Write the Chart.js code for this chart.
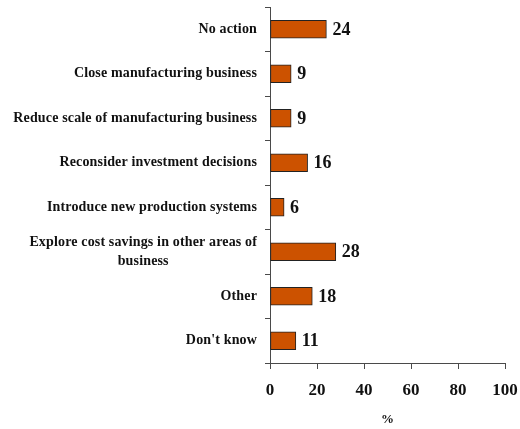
<!DOCTYPE html>
<html>
<head>
<meta charset="utf-8">
<script src="https://cdn.jsdelivr.net/npm/chart.js@4/dist/chart.umd.min.js"></script>
<style>
  html, body { margin: 0; padding: 0; background: #fff; }
  #wrap { width: 520px; height: 429px; position: relative; }
</style>
</head>
<body>
<div id="wrap"><canvas id="chart"></canvas></div>
<script>
const categories = [
  'No action',
  'Close manufacturing business',
  'Reduce scale of manufacturing business',
  'Reconsider investment decisions',
  'Introduce new production systems',
  ['Explore cost savings in other areas of', 'business'],
  'Other',
  "Don't know",
];
const percentages = [24, 9, 9, 16, 6, 28, 18, 11];
const xTicks = [0, 20, 40, 60, 80, 100];

const SERIF = '"Liberation Serif", "Times New Roman", serif';
const AXIS_COLOR = '#4a4a4a';

// category labels: block right-aligned to the axis, lines centred on each other
const categoryLabels = {
  id: 'categoryLabels',
  afterDraw(chart) {
    const { ctx, scales: { y } } = chart;
    ctx.save();
    ctx.font = `bold 14px ${SERIF}`;
    ctx.letterSpacing = '0.15px';
    ctx.fillStyle = '#111';
    ctx.textBaseline = 'middle';
    ctx.textAlign = 'center';
    const right = y.right - 13;
    const lineH = 19;
    categories.forEach((label, i) => {
      const lines = Array.isArray(label) ? label : [label];
      const widest = Math.max(...lines.map(l => ctx.measureText(l).width));
      const cx = right - widest / 2;
      const cy = y.getPixelForValue(i);
      lines.forEach((l, k) => {
        ctx.fillText(l, cx, cy + (k - (lines.length - 1) / 2) * lineH);
      });
    });
    ctx.restore();
  },
};

// value printed just past the end of each bar
const valueLabels = {
  id: 'valueLabels',
  afterDatasetsDraw(chart) {
    const { ctx } = chart;
    const meta = chart.getDatasetMeta(0);
    ctx.save();
    ctx.font = `bold 18px ${SERIF}`;
    ctx.fillStyle = '#111';
    ctx.textBaseline = 'middle';
    ctx.textAlign = 'left';
    meta.data.forEach((bar, i) => {
      ctx.fillText(String(percentages[i]), bar.x + 6, bar.y + 1);
    });
    ctx.restore();
  },
};

new Chart(document.getElementById('chart'), {
  type: 'bar',
  data: {
    labels: categories,
    datasets: [{
      data: percentages,
      backgroundColor: '#CC5200',
      borderColor: '#222',
      borderWidth: 1,
      borderSkipped: false,
      barThickness: 18,
    }],
  },
  options: {
    indexAxis: 'y',
    responsive: true,
    maintainAspectRatio: false,
    animation: false,
    layout: { padding: { top: 7, right: 0, bottom: 0, left: 0 } },
    plugins: {
      legend: { display: false },
      tooltip: { enabled: false },
    },
    scales: {
      x: {
        min: 0,
        max: 100,
        afterBuildTicks: scale => { scale.ticks = xTicks.map(v => ({ value: v })); },
        afterFit: scale => {
          scale.height = 66;
          // plot ends 15px short of the right edge, room for the "100" label
          scale.paddingLeft = 0;
          scale.paddingRight = 15;
        },
        grid: {
          drawOnChartArea: false,
          drawTicks: true,
          tickLength: 6,
          color: AXIS_COLOR,
        },
        border: { color: AXIS_COLOR, width: 1 },
        ticks: {
          color: '#111',
          font: { family: SERIF, size: 17, weight: 'bold' },
          padding: 11,
          maxRotation: 0,
        },
        title: {
          display: true,
          text: '%',
          color: '#111',
          font: { family: SERIF, size: 13, weight: 'bold' },
          padding: { top: 4, bottom: 2 },
        },
      },
      y: {
        afterFit: scale => { scale.width = 270; },
        grid: {
          offset: true,
          drawOnChartArea: false,
          drawTicks: true,
          tickLength: 5,
          color: AXIS_COLOR,
        },
        border: { color: AXIS_COLOR, width: 1 },
        ticks: { display: false },
      },
    },
  },
  plugins: [categoryLabels, valueLabels],
});
</script>
</body>
</html>
